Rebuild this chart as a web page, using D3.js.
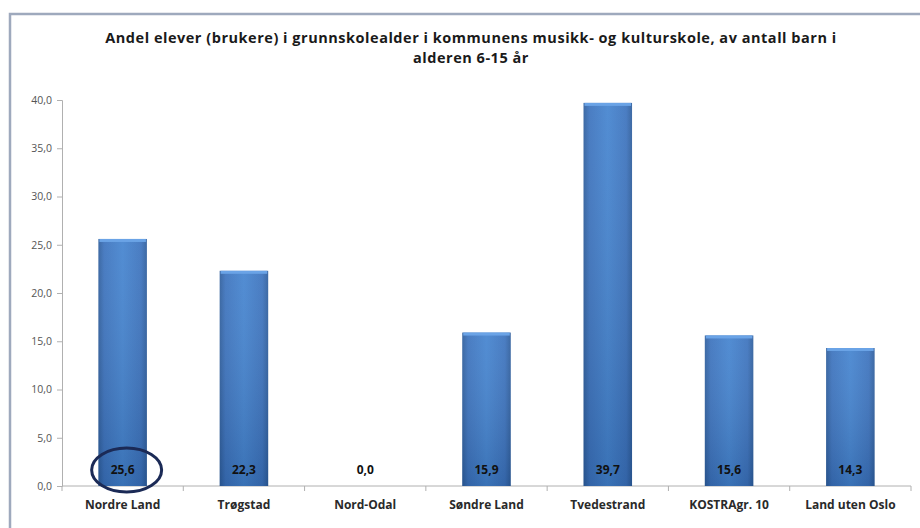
<!DOCTYPE html>
<html>
<head>
<meta charset="utf-8">
<script src="https://cdn.jsdelivr.net/npm/d3@7"></script>
<style>
  body { margin: 0; background: #fff; }
  svg { display: block; }
</style>
</head>
<body>
<script>
var categories = ["Nordre Land", "Trøgstad", "Nord-Odal", "Søndre Land", "Tvedestrand", "KOSTRAgr. 10", "Land uten Oslo"];
var values = [25.6, 22.3, 0.0, 15.9, 39.7, 15.6, 14.3];
var yTicks = [0, 5, 10, 15, 20, 25, 30, 35, 40];
var titleLines = ["Andel elever (brukere) i grunnskolealder i  kommunens musikk- og kulturskole, av antall barn i", "alderen 6-15 år"];
var highlighted = "Nordre Land";

var width = 920, height = 528;
var margin = { left: 62, right: 9, top: 100, bottom: 42 };
var font = "'Open Sans', Lato, sans-serif";

var svg = d3.select("body").append("svg")
	.attr("width", width)
	.attr("height", height);

var defs = svg.append("defs");
var grad = defs.append("linearGradient").attr("id", "barGrad")
	.attr("x1", "0%").attr("x2", "100%").attr("y1", "0%").attr("y2", "0%");
grad.append("stop").attr("offset", "0%").attr("stop-color", "#2d5d9c");
grad.append("stop").attr("offset", "12%").attr("stop-color", "#3b72bd");
grad.append("stop").attr("offset", "50%").attr("stop-color", "#4383cf");
grad.append("stop").attr("offset", "88%").attr("stop-color", "#3b72bd");
grad.append("stop").attr("offset", "100%").attr("stop-color", "#2d5d9c");

var shade = defs.append("linearGradient").attr("id", "barShade")
	.attr("x1", "0%").attr("x2", "0%").attr("y1", "0%").attr("y2", "100%");
shade.append("stop").attr("offset", "0%").attr("stop-color", "#ffffff").attr("stop-opacity", 0.08);
shade.append("stop").attr("offset", "100%").attr("stop-color", "#0a2040").attr("stop-opacity", 0.18);

// frame around the chart (runs off the right and bottom)
svg.append("rect")
	.attr("x", 10).attr("y", 14)
	.attr("width", 940).attr("height", 540)
	.attr("fill", "#fff")
	.attr("stroke", "#9ea9bd")
	.attr("stroke-width", 2.5);

// title
var title = svg.append("text")
	.attr("x", 471).attr("y", 43)
	.attr("text-anchor", "middle")
	.style("font-family", font)
	.style("font-weight", "bold")
	.style("font-size", "14.5px")
	.style("fill", "#1a1a1a");
title.selectAll("tspan")
	.data(titleLines)
	.enter()
	.append("tspan")
	.attr("x", 471)
	.attr("dy", function(d, i) { return i === 0 ? 0 : 20; })
	.text(function(d) { return d; });
// spread the letters so the first line spans the same width as in the original
var firstLen = title.select("tspan").node().getComputedTextLength();
title.style("letter-spacing", ((732 - firstLen) / titleLines[0].length) + "px");

var x = d3.scaleBand()
	.domain(categories)
	.range([margin.left, width - margin.right])
	.paddingInner(0.6)
	.paddingOuter(0.3);

var y = d3.scaleLinear()
	.domain([0, 40])
	.range([height - margin.bottom, margin.top]);

var fmt = function(d) { return d3.format(".1f")(d).replace(".", ","); };

// y axis
var yAxis = svg.append("g")
	.attr("transform", "translate(" + margin.left + ",0)")
	.call(d3.axisLeft(y).tickValues(yTicks).tickSize(5).tickPadding(5).tickFormat(fmt));
yAxis.select(".domain").attr("stroke", "#b0b0b0");
yAxis.selectAll(".tick line").attr("stroke", "#b0b0b0");
yAxis.selectAll(".tick text")
	.style("font-family", font)
	.style("font-size", "10.5px")
	.style("fill", "#555");

// x axis with ticks between categories
var step = x.step();
var boundaries = d3.range(categories.length + 1).map(function(i) { return margin.left + i * step; });
var xAxis = svg.append("g");
xAxis.append("line")
	.attr("x1", margin.left).attr("x2", boundaries[boundaries.length - 1])
	.attr("y1", y(0)).attr("y2", y(0))
	.attr("stroke", "#b0b0b0");
xAxis.selectAll("line.tk")
	.data(boundaries)
	.enter()
	.append("line")
	.attr("class", "tk")
	.attr("x1", function(d) { return d; })
	.attr("x2", function(d) { return d; })
	.attr("y1", y(0)).attr("y2", y(0) + 5)
	.attr("stroke", "#b0b0b0");
xAxis.selectAll("text")
	.data(categories)
	.enter()
	.append("text")
	.attr("x", function(d) { return x(d) + x.bandwidth() / 2; })
	.attr("y", y(0) + 23)
	.attr("text-anchor", "middle")
	.style("font-family", font)
	.style("font-weight", "bold")
	.style("font-size", "12px")
	.style("fill", "#2a2a2a")
	.text(function(d) { return d; });

// bars
var bars = svg.append("g").selectAll("g.bar")
	.data(categories)
	.enter()
	.append("g")
	.attr("class", "bar");

bars.append("rect")
	.attr("x", function(d) { return x(d); })
	.attr("y", function(d, i) { return y(values[i]); })
	.attr("width", x.bandwidth())
	.attr("height", function(d, i) { return y(0) - y(values[i]); })
	.attr("fill", "url(#barGrad)");

bars.append("rect")
	.attr("x", function(d) { return x(d); })
	.attr("y", function(d, i) { return y(values[i]); })
	.attr("width", x.bandwidth())
	.attr("height", function(d, i) { return y(0) - y(values[i]); })
	.attr("fill", "url(#barShade)");

// top bevel highlight
bars.filter(function(d, i) { return values[i] > 0; })
	.append("rect")
	.attr("x", function(d) { return x(d) + 1; })
	.attr("y", function(d) { return y(values[categories.indexOf(d)]); })
	.attr("width", x.bandwidth() - 2)
	.attr("height", 3)
	.attr("fill", "#6aa3e6");

// value labels inside the bars near the base
bars.append("text")
	.attr("x", function(d) { return x(d) + x.bandwidth() / 2; })
	.attr("y", y(0) - 12)
	.attr("text-anchor", "middle")
	.style("font-family", font)
	.style("font-weight", "bold")
	.style("font-size", "12px")
	.style("fill", "#111")
	.text(function(d, i) { return fmt(values[i]); });

// circle around the highlighted value
svg.append("ellipse")
	.attr("cx", x(highlighted) + x.bandwidth() / 2 + 4)
	.attr("cy", y(0) - 16)
	.attr("rx", 35)
	.attr("ry", 22)
	.attr("fill", "none")
	.attr("stroke", "#1b2a56")
	.attr("stroke-width", 3);
</script>
</body>
</html>
